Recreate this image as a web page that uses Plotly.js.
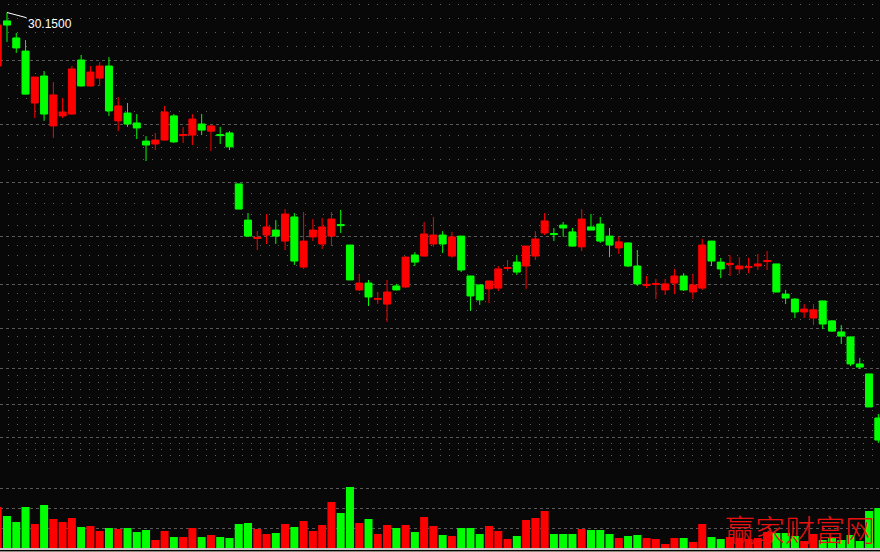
<!DOCTYPE html>
<html>
<head>
<meta charset="utf-8">
<script src="https://cdn.plot.ly/plotly-3.0.1.min.js"></script>
<style>html,body{margin:0;padding:0;background:#080808;}#chart{width:880px;height:552px;}</style>
</head>
<body>
<div id="chart"></div>
<script>
const days = Array.from({length: 96}, (_, i) => i);

const opens = [28.11, 29.83, 29.18, 28.68, 26.70, 27.73, 25.83, 26.21, 26.28, 28.34,
  27.35, 27.65, 28.11, 26.02, 26.32, 25.94, 25.25, 25.14, 25.29, 26.21,
  25.46, 25.48, 25.90, 25.63, 25.50, 25.56, 23.62, 22.24, 21.54, 21.67,
  21.86, 21.44, 22.36, 20.45, 21.60, 21.33, 21.63, 22.07, 21.29, 19.58,
  19.84, 19.22, 19.04, 19.73, 19.69, 20.91, 20.87, 21.33, 21.67, 20.87,
  21.63, 20.11, 19.77, 19.62, 19.65, 20.40, 20.64, 20.49, 20.87, 21.75,
  21.73, 22.05, 21.79, 21.22, 21.98, 22.09, 21.63, 21.18, 21.37, 20.49,
  19.75, 19.79, 19.58, 19.84, 20.11, 19.50, 19.65, 21.44, 20.64, 20.55,
  20.38, 20.43, 20.49, 20.66, 20.57, 19.42, 19.23, 18.74, 18.51, 19.16,
  18.40, 17.98, 17.79, 16.76, 16.38, 14.70];

const closes = [29.67, 29.67, 28.80, 27.04, 27.69, 26.28, 27.01, 26.36, 28.00, 27.35,
  27.88, 28.11, 26.40, 26.59, 25.90, 25.75, 25.10, 25.29, 26.36, 25.22,
  25.50, 26.09, 25.67, 25.83, 25.46, 25.03, 22.66, 21.63, 21.58, 21.98,
  21.63, 22.47, 20.68, 21.44, 21.86, 21.98, 22.28, 22.03, 19.96, 19.84,
  19.31, 19.25, 19.50, 19.58, 20.83, 20.64, 21.71, 21.67, 21.33, 21.60,
  20.34, 19.35, 19.20, 19.92, 20.38, 20.43, 20.26, 21.25, 21.52, 22.21,
  21.69, 21.94, 21.25, 22.28, 21.86, 21.44, 21.29, 21.41, 20.49, 19.81,
  19.79, 19.82, 19.81, 20.11, 19.58, 19.77, 21.29, 20.68, 20.38, 20.59,
  20.49, 20.47, 20.57, 20.70, 19.50, 19.27, 18.74, 18.85, 18.82, 18.28,
  18.01, 17.82, 16.76, 16.64, 15.12, 13.86];

const highs = [29.79, 30.15, 29.37, 29.10, 27.70, 27.92, 27.50, 26.89, 28.11, 28.53,
  28.11, 28.26, 28.45, 26.93, 26.70, 26.28, 25.44, 25.56, 26.59, 26.28,
  25.79, 26.28, 26.28, 25.84, 25.79, 25.63, 23.62, 22.51, 21.82, 22.47,
  22.24, 22.66, 22.51, 22.55, 22.28, 22.32, 22.55, 22.63, 21.29, 20.19,
  19.96, 19.50, 19.96, 19.81, 20.87, 21.02, 22.17, 22.36, 21.82, 21.79,
  21.64, 20.12, 19.78, 19.93, 20.49, 20.72, 20.91, 21.26, 21.82, 22.51,
  21.94, 22.17, 21.94, 22.66, 22.47, 22.36, 21.94, 21.60, 21.38, 21.10,
  20.11, 20.00, 20.00, 20.38, 20.22, 20.19, 21.52, 21.45, 20.80, 20.91,
  20.83, 20.80, 20.95, 21.06, 20.57, 19.58, 19.27, 19.04, 19.04, 19.17,
  18.43, 18.24, 17.80, 16.99, 16.38, 14.85];

const lows = [27.96, 29.03, 28.61, 27.02, 26.13, 26.02, 25.37, 26.13, 26.26, 27.33,
  27.33, 27.35, 26.21, 25.63, 25.79, 25.33, 24.49, 24.91, 25.27, 25.18,
  25.18, 25.10, 25.48, 24.87, 25.14, 24.91, 22.66, 21.60, 21.10, 21.33,
  21.33, 21.10, 20.53, 20.38, 21.44, 21.14, 21.25, 21.75, 19.96, 19.54,
  18.97, 19.04, 18.36, 19.56, 19.65, 20.49, 20.85, 21.22, 20.99, 20.80,
  20.26, 18.78, 19.01, 19.08, 19.54, 20.30, 20.15, 19.62, 20.72, 21.67,
  21.44, 21.60, 21.23, 21.06, 21.85, 21.37, 20.83, 20.95, 20.45, 19.73,
  19.65, 19.23, 19.39, 19.42, 19.54, 19.23, 19.58, 20.49, 20.03, 20.11,
  20.19, 20.22, 20.34, 20.34, 19.50, 19.04, 18.51, 18.51, 18.24, 18.09,
  17.98, 17.52, 16.68, 16.57, 15.12, 13.75];

const volumes = [41000, 32000, 26000, 41000, 24000, 43000, 29000, 26000, 30000, 21000,
  22000, 17000, 20000, 19000, 20000, 16000, 18000, 8000, 17000, 11000,
  11000, 20000, 11000, 13000, 11000, 10000, 24000, 25000, 19000, 14000,
  15000, 24000, 21000, 27000, 17000, 23000, 46000, 35000, 61000, 25000,
  29000, 14000, 23000, 20000, 23000, 16000, 31000, 22000, 13000, 12000,
  20000, 20000, 14000, 22000, 17000, 9000, 12000, 28000, 30000, 37000,
  14000, 14000, 14000, 19000, 18000, 18000, 14000, 10000, 12000, 13000,
  10000, 9000, 4000, 10000, 10000, 6000, 24000, 11000, 9000, 11000,
  10000, 9000, 10000, 16000, 15000, 15000, 12000, 7000, 14000, 8000,
  10000, 8000, 13000, 7000, 37000, 40000];

const priceGrid = [12.82, 13.96, 15.22, 16.59, 18.12, 19.79, 21.62, 23.68, 25.89, 28.33, 30.97];
const volumeGrid = [20000, 40000, 60000, 80000];
const watermark = '赢家财富网';

const UP = '#ff0000', DOWN = '#00ff00';
const volColors = closes.map((c, i) => c >= opens[i] ? UP : DOWN);

const minorGrid = [];
for (let i = 0; i < priceGrid.length - 1; i++) {
  for (let k = 1; k < 5; k++) {
    minorGrid.push(priceGrid[i] + (priceGrid[i + 1] - priceGrid[i]) * k / 5);
  }
}

let maxIdx = 0;
highs.forEach((h, i) => { if (h > highs[maxIdx]) maxIdx = i; });

const H = 552;
const candle = {
  type: 'candlestick', x: days, open: opens, high: highs, low: lows, close: closes,
  xaxis: 'x', yaxis: 'y',
  increasing: {line: {color: UP, width: 1}, fillcolor: UP},
  decreasing: {line: {color: DOWN, width: 1}, fillcolor: DOWN},
  whiskerwidth: 0, hoverinfo: 'skip'
};
const vol = {
  type: 'bar', x: days, y: volumes, xaxis: 'x', yaxis: 'y2',
  marker: {color: volColors, line: {width: 0}}, hoverinfo: 'skip'
};

const gridStyle = {gridcolor: '#5a5a5a', gridwidth: 1, griddash: '3px,3px'};

const layout = {
  width: 880, height: H,
  margin: {l: 0, r: 0, t: 0, b: 0, pad: 0},
  paper_bgcolor: '#080808', plot_bgcolor: '#080808',
  showlegend: false, hovermode: false,
  boxgap: 0.245, boxgroupgap: 0, bargap: 0.137,
  xaxis: {
    range: [0.245, 95.18], anchor: 'y2', showgrid: false, zeroline: false,
    showticklabels: false, ticks: '', showline: true, linecolor: '#c8c8c8', linewidth: 2,
    rangeslider: {visible: false}, fixedrange: true
  },
  yaxis: Object.assign({
    domain: [84.5 / H, 1], range: [12.814, 30.626], anchor: 'x',
    tickmode: 'array', tickvals: priceGrid, showticklabels: false, ticks: '',
    zeroline: false, showline: false, fixedrange: true,
    minor: {tickmode: 'array', tickvals: minorGrid, showgrid: true, gridcolor: '#606060',
            gridwidth: 1, griddash: '0px,8px,1px,0px', ticks: ''}
  }, gridStyle),
  yaxis2: Object.assign({
    domain: [4 / H, 84.5 / H], range: [0, 80500], anchor: 'x',
    tickmode: 'array', tickvals: volumeGrid, showticklabels: false, ticks: '',
    zeroline: false, showline: false, fixedrange: true
  }, gridStyle),
  shapes: [{
    type: 'line', xref: 'paper', yref: 'paper', x0: 0, x1: 1, y0: 0.5 / H, y1: 0.5 / H,
    line: {color: '#8c8a7c', width: 1}
  }],
  annotations: [
    {
      x: days[maxIdx], y: highs[maxIdx], xref: 'x', yref: 'y',
      text: highs[maxIdx].toFixed(4), showarrow: true, arrowhead: 0, arrowwidth: 1,
      arrowcolor: '#ffffff', ax: 43, ay: 11.5, standoff: 0,
      font: {family: 'Liberation Sans, Arial, sans-serif', size: 12, color: '#ffffff'}
    },
    {
      x: 800 / 880, y: (H - 528) / H, xref: 'paper', yref: 'paper',
      text: watermark, showarrow: false, xanchor: 'center', yanchor: 'middle',
      font: {family: 'Noto Sans CJK SC', size: 30, color: '#e81010', weight: 300}
    }
  ]
};

Plotly.newPlot('chart', [vol, candle], layout, {staticPlot: true, displayModeBar: false});
</script>
</body>
</html>
